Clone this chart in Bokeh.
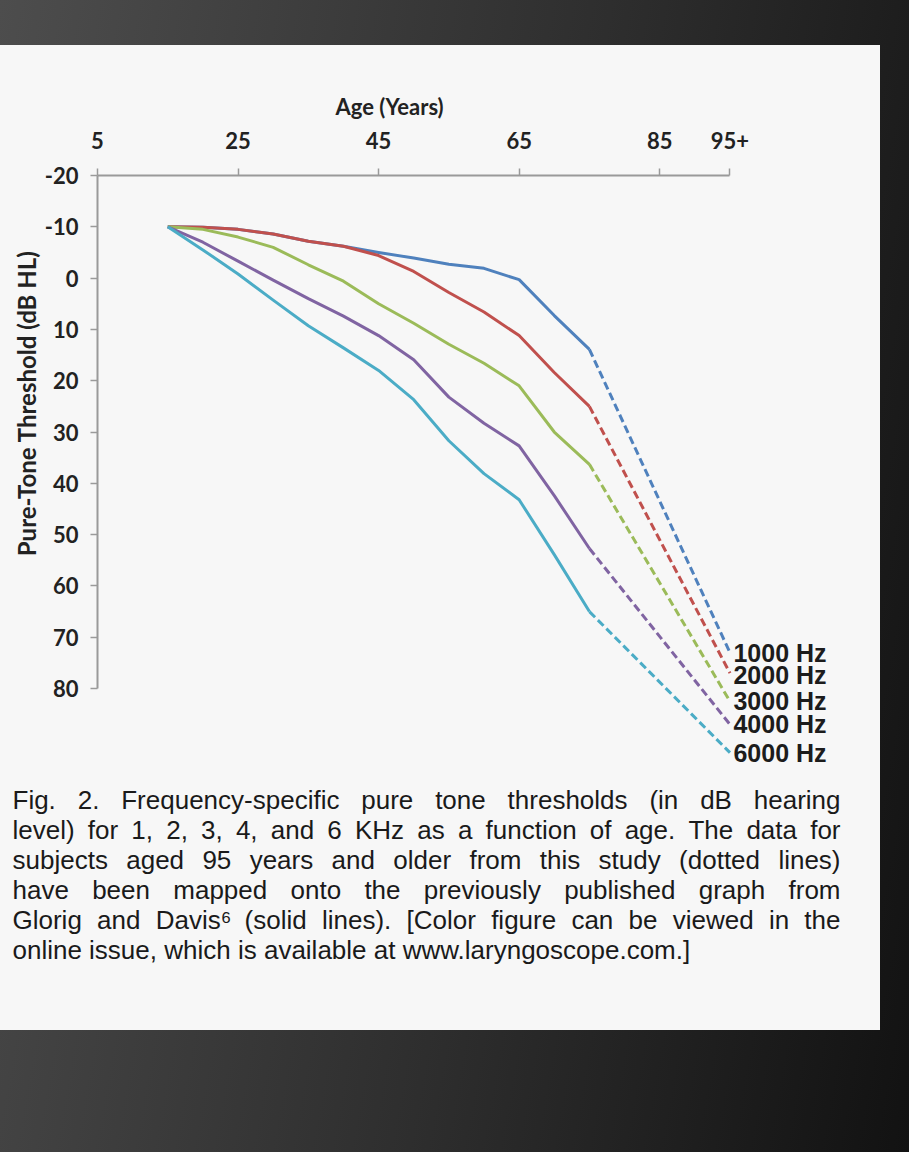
from bokeh.plotting import figure
from bokeh.models import Range1d, FixedTicker, Title
from bokeh.layouts import column
from bokeh.embed import file_html
from bokeh.resources import INLINE
from bokeh.core.properties import value

# ---------------- data ----------------
ages_solid = [15, 20, 25, 30, 35, 40, 45, 50, 55, 60, 65, 70, 75]   # Glorig & Davis (solid)
ages_dashed = [75, 95]                                               # this study, 95+ (dashed)

frequencies = ["1000 Hz", "2000 Hz", "3000 Hz", "4000 Hz", "6000 Hz"]

thr_1000 = [-10, -9.9, -9.5, -8.6, -7.2, -6.2, -5.0, -3.9, -2.7, -1.9, 0.3, 7.3, 13.9]
thr_2000 = [-10, -9.9, -9.5, -8.6, -7.2, -6.2, -4.4, -1.3, 2.8, 6.6, 11.2, 18.4, 25.0]
thr_3000 = [-10, -9.5, -8.0, -6.0, -2.6, 0.6, 5.0, 8.8, 12.9, 16.6, 21.0, 30.0, 36.3]
thr_4000 = [-10, -7.0, -3.3, 0.4, 4.0, 7.4, 11.2, 15.9, 23.2, 28.3, 32.7, 42.4, 52.7]
thr_6000 = [-10, -5.5, -0.8, 4.3, 9.3, 13.6, 18.0, 23.7, 31.7, 38.1, 43.2, 53.9, 65.0]

thr_95plus = [73.0, 77.0, 82.5, 87.0, 92.5]   # dashed end values at 95+

x_ticks = [5, 25, 45, 65, 85, 95]
x_tick_labels = ["5", "25", "45", "65", "85", "95+"]
y_ticks = [-20, -10, 0, 10, 20, 30, 40, 50, 60, 70, 80]
y_tick_labels = ["-20", "-10", "0", "10", "20", "30", "40", "50", "60", "70", "80"]

x_title = "Age (Years)"
y_title = "Pure-Tone Threshold (dB HL)"

caption_lines = [
    "Fig. 2. Frequency-specific pure tone thresholds (in dB hearing",
    "level) for 1, 2, 3, 4, and 6 KHz as a function of age. The data for",
    "subjects aged 95 years and older from this study (dotted lines)",
    "have been mapped onto the previously published graph from",
    "Glorig and Davis\u2076 (solid lines). [Color figure can be viewed in the",
    "online issue, which is available at www.laryngoscope.com.]",
]

# ---------------- styles ----------------
colors = ["#4F81BD", "#C0504D", "#9BBB59", "#8064A2", "#4BACC6"]
PANEL = "#f7f7f7"
AX_FONT = "Lato"
CAP_FONT = "Liberation Sans"
CAP_SIZE = 26
CAP_LEFT, CAP_RIGHT = 12, 840

series = [thr_1000, thr_2000, thr_3000, thr_4000, thr_6000]

p = figure(width=880, height=730,
           x_range=Range1d(5, 115), y_range=Range1d(95, -20),
           x_axis_location="above",
           toolbar_location=None, output_backend="svg",
           min_border_left=97, min_border_top=130,
           min_border_right=10, min_border_bottom=10,
           background_fill_color=PANEL, border_fill_color=PANEL,
           outline_line_color=None, margin=(45, 29, 0, 0),
           styles={"background-color": PANEL})
p.frame_align = False
p.grid.visible = False

for vals, end, col in zip(series, thr_95plus, colors):
    p.line(ages_solid, vals, line_color=col, line_width=3, line_join="round")
    p.line(ages_dashed, [vals[-1], end], line_color=col, line_width=3,
           line_dash="8 4")

# series labels right of the dashed ends, kept apart by a minimum gap
lab_y = []
for e in thr_95plus:
    lab_y.append(e if not lab_y else max(e, lab_y[-1] + 4.4))
p.text(x=[95.5] * len(frequencies), y=lab_y, text=frequencies,
       text_font=value("Liberation Sans"), text_font_style="bold",
       text_font_size="25px", text_baseline="middle", text_align="left",
       text_color="#1c1c1c")

# axes
xa = p.xaxis[0]
xa.ticker = FixedTicker(ticks=x_ticks)
xa.major_label_overrides = {t: l for t, l in zip(x_ticks, x_tick_labels)}
xa.bounds = (5, 95)

ya = p.yaxis[0]
ya.ticker = FixedTicker(ticks=y_ticks)
ya.major_label_overrides = {t: l for t, l in zip(y_ticks, y_tick_labels)}
ya.bounds = (-20, 80)

for ax in (xa, ya):
    ax.axis_line_color = "#9a9a9a"
    ax.axis_line_width = 2
    ax.major_tick_line_color = "#9a9a9a"
    ax.major_tick_line_width = 1.5
    ax.major_tick_in = 0
    ax.major_tick_out = 7
    ax.minor_tick_line_color = None
    ax.major_label_text_font = AX_FONT
    ax.major_label_text_font_style = "bold"
    ax.major_label_text_font_size = "22px"
    ax.major_label_text_color = "#222222"
xa.major_label_standoff = 20
ya.major_label_standoff = 12

# axis titles placed as in the original (x title over the 5..95 span, y title upper part)
p.title.text = x_title
p.title.align = "left"
p.title.offset = 238
p.title.standoff = 18
p.title.text_font = AX_FONT
p.title.text_font_style = "bold"
p.title.text_font_size = "22px"
p.title.text_color = "#222222"

p.add_layout(Title(text=y_title, align="right", offset=75, standoff=2,
                   text_font=AX_FONT, text_font_style="bold",
                   text_font_size="24px", text_color="#222222"), "left")

# ---------------- caption (justified like the printed figure legend) ----------------
ARIAL = {" ": 278, "(": 333, ")": 333, ",": 278, "-": 333, ".": 278, "[": 278,
         "]": 278, ":": 278, "\u2076": 333,
         "A": 667, "B": 667, "C": 722, "D": 722, "E": 667, "F": 611, "G": 778,
         "H": 722, "I": 278, "K": 667, "T": 611,
         "a": 556, "b": 556, "c": 500, "d": 556, "e": 556, "f": 278, "g": 556,
         "h": 556, "i": 222, "j": 222, "k": 500, "l": 222, "m": 833, "n": 556,
         "o": 556, "p": 556, "q": 556, "r": 333, "s": 500, "t": 278, "u": 556,
         "v": 500, "w": 722, "x": 500, "y": 500, "z": 500}


def text_width(s):
    return sum(ARIAL.get(ch, 556) for ch in s) * CAP_SIZE / 1000.0


words, wx, wy = [], [], []
for i, line in enumerate(caption_lines):
    toks = line.split(" ")
    widths = [text_width(t) for t in toks]
    if i < len(caption_lines) - 1 and len(toks) > 1:
        gap = (CAP_RIGHT - CAP_LEFT - sum(widths)) / (len(toks) - 1)
    else:
        gap = text_width(" ")
    x = CAP_LEFT
    for t, w in zip(toks, widths):
        words.append(t)
        wx.append(x)
        wy.append(i)
        x += w + gap

cap = figure(width=880, height=255,
             x_range=Range1d(0, 880), y_range=Range1d(7.667, -0.833),
             x_axis_location=None, y_axis_location=None,
             toolbar_location=None, output_backend="svg",
             min_border=0, background_fill_color=PANEL,
             border_fill_color=PANEL, outline_line_color=None,
             margin=(0, 29, 0, 0), styles={"background-color": PANEL})
cap.frame_align = False
cap.grid.visible = False
cap.text(x=wx, y=wy, text=words,
         text_font=value(CAP_FONT), text_font_size=f"{CAP_SIZE}px",
         text_baseline="middle", text_align="left", text_color="#1a1a1a")

page = column(p, cap, width=909, height=1152,
              styles={"background": "linear-gradient(100deg, #4d4d4d 0%, #2e2e2e 55%, #121212 100%)"})

open("out.html", "w").write(file_html(page, INLINE))
